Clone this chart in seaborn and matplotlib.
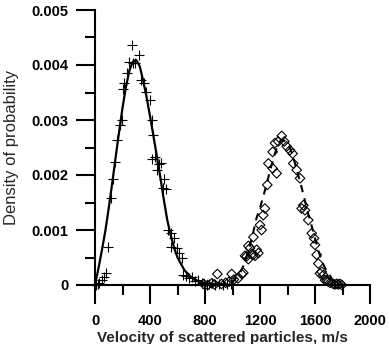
import matplotlib
matplotlib.use("Agg")
import matplotlib.pyplot as plt
import seaborn as sns
import pandas as pd
from matplotlib.ticker import MultipleLocator, FixedLocator, FixedFormatter

# ---- data ----
# fitted curve, low-velocity group (solid)
fit1_v = [0, 25, 50, 75, 100, 125, 150, 175, 200, 225, 250, 275, 300, 325, 350,
          375, 400, 425, 450, 475, 500, 525, 550, 575, 600, 650, 700, 750, 800, 850, 900]
fit1_d = [0, 0.00030, 0.00063, 0.00098, 0.00140, 0.00185, 0.00232, 0.00278, 0.00322,
          0.00360, 0.00390, 0.00406, 0.00409, 0.00398, 0.00372, 0.00342, 0.00307,
          0.00271, 0.00234, 0.00196, 0.00156, 0.00119, 0.00091, 0.00068, 0.00050,
          0.00027, 0.00014, 0.00007, 0.00003, 0.00001, 0]

# measured points, low-velocity group (+)
pts1_v = [5, 20, 31, 49, 65, 80, 97, 114, 129, 145, 158, 182, 194, 206, 213, 230, 250,
          267, 274, 291, 322, 332, 356, 368, 400, 412, 424, 412, 436, 449, 468, 480, 502,
          497, 516, 533, 550, 575, 550, 599, 613, 630, 638, 662, 686, 703, 727, 752, 776,
          790, 812, 830, 850, 870, 900, 930, 960, 990]
pts1_d = [0, 0.00002, 0.00004, 0.00009, 0.00015, 0.00021, 0.00070, 0.00158, 0.00192,
          0.00223, 0.00264, 0.00291, 0.00300, 0.00356, 0.00368, 0.00386, 0.00406,
          0.00436, 0.00404, 0.00403, 0.00418, 0.00373, 0.00368, 0.00351, 0.00336,
          0.00300, 0.00273, 0.00229, 0.00233, 0.00209, 0.00220, 0.00221, 0.00192,
          0.00176, 0.00174, 0.00100, 0.00095, 0.00085, 0.00070, 0.00067, 0.00058,
          0.00049, 0.00018, 0.00016, 0.00012, 0.00015, 0.00008, 0.00009, 0.00003,
          0.00002, 0, 0.00001, 0.00003, 0, 0.00002, 0, 0.00001, 0.00002]

# fitted curve, high-velocity group (dashed)
fit2_v = [800, 900, 950, 1000, 1050, 1080, 1100, 1125, 1150, 1175, 1200, 1225, 1250,
          1275, 1300, 1325, 1350, 1375, 1400, 1425, 1450, 1475, 1500, 1525, 1550, 1575,
          1600, 1625, 1650, 1675, 1700, 1725, 1750, 1775, 1800]
fit2_d = [0, 0.00001, 0.00002, 0.00005, 0.00020, 0.00035, 0.00050, 0.00070, 0.00095,
          0.00122, 0.00140, 0.00162, 0.00185, 0.00210, 0.00232, 0.00252, 0.00262,
          0.00263, 0.00257, 0.00245, 0.00225, 0.00202, 0.00180, 0.00155, 0.00130,
          0.00108, 0.00085, 0.00062, 0.00043, 0.00030, 0.00021, 0.00010, 0.00004,
          0.00001, 0]

# measured points, high-velocity group (diamonds)
pts2_v = [790, 820, 850, 870, 890, 920, 950, 975, 994, 1010, 1040, 1067, 1079, 1091,
          1103, 1115, 1127, 1115, 1139, 1152, 1164, 1176, 1188, 1152, 1212, 1200, 1224,
          1236, 1253, 1261, 1292, 1292, 1309, 1321, 1333, 1358, 1377, 1394, 1418, 1437,
          1442, 1467, 1491, 1503, 1515, 1527, 1551, 1576, 1593, 1600, 1612, 1624, 1636,
          1649, 1661, 1673, 1685, 1697, 1709, 1733, 1745, 1758, 1770, 1782, 1795]
pts2_d = [0.00002, 0, 0.00003, 0.00001, 0.00020, 0.00002, 0.00004, 0.00006, 0.00020,
          0.00010, 0.00012, 0.00020, 0.00022, 0.00053, 0.00052, 0.00071, 0.00067,
          0.00047, 0.00056, 0.00055, 0.00053, 0.00064, 0.00058, 0.00087, 0.00100,
          0.00109, 0.00127, 0.00139, 0.00182, 0.00221, 0.00242, 0.00212, 0.00258,
          0.00203, 0.00261, 0.00271, 0.00261, 0.00252, 0.00245, 0.00239, 0.00221,
          0.00209, 0.00194, 0.00139, 0.00145, 0.00136, 0.00118, 0.00094, 0.00085,
          0.00073, 0.00055, 0.00039, 0.00021, 0.00024, 0.00018, 0.00009, 0.00009,
          0.00006, 0.00004, 0.00002, 0.00001, 0.00002, 0.00001, 0.00002, 0]

x_ticks = [0, 400, 800, 1200, 1600, 2000]
x_tick_labels = ["0", "400", "800", "1200", "1600", "2000"]
y_ticks = [0, 0.001, 0.002, 0.003, 0.004, 0.005]
y_tick_labels = ["0", "0.001", "0.002", "0.003", "0.004", "0.005"]

# ---- plotting ----
sns.set_theme(style="ticks")
plt.rcParams["font.family"] = ["Liberation Sans", "DejaVu Sans"]

fig = plt.figure(figsize=(3.89, 3.44), dpi=100)
ax = fig.add_axes([95 / 389, 59 / 344, 275 / 389, 275 / 344])

sns.lineplot(x=fit1_v, y=fit1_d, ax=ax, color="black", linewidth=1.6,
             estimator=None, sort=False, clip_on=False)
sns.lineplot(x=fit2_v, y=fit2_d, ax=ax, color="black", linewidth=1.5,
             estimator=None, sort=False, clip_on=False)
ax.lines[-1].set_dashes([3.5, 3.0])
sns.scatterplot(x=pts1_v, y=pts1_d, ax=ax, marker="+", s=60, color="black",
                linewidth=0.8, clip_on=False, zorder=3)
sns.scatterplot(x=pts2_v, y=pts2_d, ax=ax, marker="D", s=24, facecolor="none",
                edgecolor="black", linewidth=0.8, clip_on=False, zorder=3)

ax.set_xlim(0, 2000)
ax.set_ylim(0, 0.005)
ax.xaxis.set_major_locator(FixedLocator(x_ticks))
ax.xaxis.set_major_formatter(FixedFormatter(x_tick_labels))
ax.xaxis.set_minor_locator(MultipleLocator(200))
ax.yaxis.set_major_locator(FixedLocator(y_ticks))
ax.yaxis.set_major_formatter(FixedFormatter(y_tick_labels))
ax.yaxis.set_minor_locator(MultipleLocator(0.0005))

for s in ["top", "right"]:
    ax.spines[s].set_visible(False)
for s in ["left", "bottom"]:
    ax.spines[s].set_linewidth(1.5)
    ax.spines[s].set_color("black")

ax.tick_params(axis="both", which="both", bottom=True, left=True, top=False,
               right=False, direction="out", color="black", width=1.5)
ax.tick_params(axis="both", which="major", length=14, labelsize=10.5,
               labelcolor="black")
ax.tick_params(axis="both", which="minor", length=7)
ax.tick_params(axis="x", which="major", pad=7)
ax.tick_params(axis="y", which="major", pad=5)
for lab in ax.get_xticklabels() + ax.get_yticklabels():
    lab.set_fontweight("bold")

ax.set_xlabel("Velocity of scattered particles, m/s", fontsize=11, fontweight="bold")
ax.set_ylabel("Density of probability", fontsize=12, fontweight="normal")
ax.xaxis.set_label_coords(0.464, -0.167)
ax.yaxis.set_label_coords(-0.275, 0.5)
ax.xaxis.label.set_va("top")

fig.savefig("out.png", dpi=100)
